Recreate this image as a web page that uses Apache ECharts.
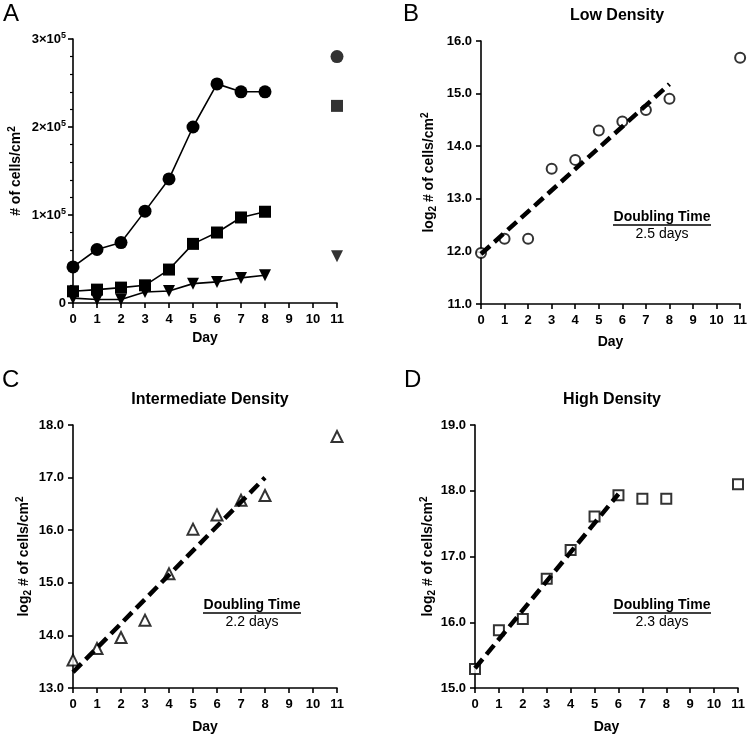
<!DOCTYPE html>
<html>
<head>
<meta charset="utf-8">
<script src="https://cdn.jsdelivr.net/npm/echarts@6/dist/echarts.min.js"></script>
<style>
  html, body { margin: 0; padding: 0; background: #fff; }
  #main { width: 750px; height: 735px; }
</style>
</head>
<body>
<div id="main"></div>
<script type="text/javascript">
    // days 0-8 are joined, day 11 stands alone
    var days = [0, 1, 2, 3, 4, 5, 6, 7, 8];
    var lastDay = 11;

    // panel A, cells/cm2
    var aCircle = [41000, 60800, 68700, 104400, 141000, 200000, 249000, 240000, 240000];
    var aCircle11 = 280000;
    var aSquare = [13300, 15200, 17500, 20100, 38000, 67200, 80100, 97200, 103700];
    var aSquare11 = 224000;
    var aTri = [5500, 4000, 4000, 12500, 13700, 22000, 24000, 28500, 31500];
    var aTri11 = 53000;

    // panels B-D, log2 cells/cm2 (days 0-8, then 11)
    var bLow = [11.97, 12.24, 12.24, 13.57, 13.74, 14.30, 14.47, 14.69, 14.90, 15.68];
    var cMid = [13.53, 13.75, 13.96, 14.29, 15.17, 16.02, 16.29, 16.57, 16.66, 17.78];
    var dHigh = [15.29, 15.88, 16.05, 16.66, 17.10, 17.61, 17.93, 17.88, 17.88, 18.10];

    // fitted lines (end points)
    var fitB = [[0, 11.95], [8, 15.18]];
    var fitC = [[0, 13.30], [8, 17.00]];
    var fitD = [[0, 15.30], [6, 17.95]];

    var dblB = '2.5 days';
    var dblC = '2.2 days';
    var dblD = '2.3 days';

    var FONT = 'Liberation Sans';

    function pairs(xs, ys) {
        return xs.map(function (x, i) { return [x, ys[i]]; });
    }
    function logPairs(ys) {
        return days.concat([lastDay]).map(function (x, i) { return [x, ys[i]]; });
    }

    function xAxis(gridIndex, gap) {
        return {
            type: 'value', gridIndex: gridIndex, min: 0, max: 11, interval: 1,
            name: 'Day', nameLocation: 'middle', nameGap: gap,
            nameTextStyle: { fontFamily: FONT, fontWeight: 'bold', fontSize: 14, color: '#000' },
            axisLine: { onZero: false, lineStyle: { color: '#000', width: 1.6 } },
            axisTick: { show: true, length: 5, lineStyle: { color: '#000', width: 1.6 } },
            axisLabel: { fontFamily: FONT, fontWeight: 'bold', fontSize: 13, color: '#000', margin: 10 },
            splitLine: { show: false }
        };
    }

    var logName = '{n|log}{sub|2}{n| # of cells/cm}{sup|2}';
    var nameRich = {
        n: { fontFamily: FONT, fontWeight: 'bold', fontSize: 14, color: '#000', lineHeight: 18 },
        sub: { fontFamily: FONT, fontWeight: 'bold', fontSize: 10, color: '#000', verticalAlign: 'bottom', lineHeight: 18, padding: [6, 0, 0, 0] },
        sup: { fontFamily: FONT, fontWeight: 'bold', fontSize: 10, color: '#000', verticalAlign: 'top', lineHeight: 18, padding: [0, 0, 6, 0] }
    };

    function logY(gridIndex, min, max, gap) {
        return {
            type: 'value', gridIndex: gridIndex, min: min, max: max, interval: 1,
            name: logName, nameLocation: 'middle', nameGap: gap, nameRotate: 90,
            nameTextStyle: { rich: nameRich },
            axisLine: { show: true, lineStyle: { color: '#000', width: 1.6 } },
            axisTick: { show: true, length: 5, lineStyle: { color: '#000', width: 1.6 } },
            axisLabel: {
                fontFamily: FONT, fontWeight: 'bold', fontSize: 13, color: '#000', margin: 9,
                formatter: function (v) { return v.toFixed(1); }
            },
            splitLine: { show: false }
        };
    }

    var blackLine = { color: '#000', width: 1.6 };
    var openItem = { color: '#fff', borderColor: '#000', borderWidth: 2 };
    var dash = { color: '#000', width: 4.5, type: [12, 6] };

    function annot(cx, cy, value) {
        return {
            type: 'group',
            children: [
                { type: 'text', x: cx, y: cy, style: { text: 'Doubling Time', fontFamily: FONT, fontWeight: 'bold', fontSize: 14, fill: '#000', align: 'center', verticalAlign: 'middle' } },
                { type: 'line', shape: { x1: cx - 49, y1: cy + 8, x2: cx + 49, y2: cy + 8 }, style: { stroke: '#000', lineWidth: 1.3 } },
                { type: 'text', x: cx, y: cy + 17, style: { text: value, fontFamily: FONT, fontSize: 14, fill: '#000', align: 'center', verticalAlign: 'middle' } }
            ]
        };
    }
    function letter(x, y, t) {
        return { type: 'text', x: x, y: y, style: { text: t, fontFamily: FONT, fontSize: 24, fill: '#000' } };
    }
    var titleStyle = { fontFamily: FONT, fontWeight: 'bold', fontSize: 16, color: '#000' };

    var myChart = echarts.init(document.getElementById('main'), null, { renderer: 'canvas' });
    myChart.setOption({
        animation: false,
        backgroundColor: '#fff',
        title: [
            { text: 'Low Density', left: 612, top: 3, textAlign: 'center', textStyle: titleStyle },
            { text: 'Intermediate Density', left: 205, top: 387, textAlign: 'center', textStyle: titleStyle },
            { text: 'High Density', left: 607, top: 387, textAlign: 'center', textStyle: titleStyle }
        ],
        grid: [
            { left: 73, right: 413, top: 39, bottom: 432 },
            { left: 481, right: 6, top: 41, bottom: 431 },
            { left: 73, right: 413, top: 425, bottom: 47 },
            { left: 475, right: 12, top: 425, bottom: 47 }
        ],
        xAxis: [xAxis(0, 28), xAxis(1, 31), xAxis(2, 32), xAxis(3, 32)],
        yAxis: [
            {
                type: 'value', gridIndex: 0, min: 0, max: 300000, interval: 100000,
                name: '{n|# of cells/cm}{sup|2}', nameLocation: 'middle', nameGap: 48, nameRotate: 90,
                nameTextStyle: { rich: nameRich },
                axisLine: { show: true, lineStyle: { color: '#000', width: 1.6 } },
                axisTick: { show: true, length: 5, lineStyle: { color: '#000', width: 1.6 } },
                minorTick: { show: true, splitNumber: 5, length: 3, lineStyle: { color: '#000', width: 1.2 } },
                axisLabel: {
                    margin: 7,
                    formatter: function (v) {
                        if (v === 0) return '{b|0}';
                        return '{b|' + (v / 100000) + '×10}{s|5}';
                    },
                    rich: {
                        b: { fontFamily: FONT, fontWeight: 'bold', fontSize: 13, color: '#000', lineHeight: 16 },
                        s: { fontFamily: FONT, fontWeight: 'bold', fontSize: 9, color: '#000', verticalAlign: 'top', lineHeight: 16, padding: [0, 0, 6, 0] }
                    }
                },
                splitLine: { show: false }
            },
            logY(1, 11, 16, 43),
            logY(2, 13, 18, 40),
            logY(3, 15, 19, 37)
        ],
        graphic: [
            letter(3, 2, 'A'),
            letter(403, 2, 'B'),
            letter(2, 368, 'C'),
            letter(404, 368, 'D'),
            annot(662, 217, dblB),
            annot(252, 605, dblC),
            annot(662, 605, dblD)
        ],
        series: [
            // panel A
            { type: 'line', xAxisIndex: 0, yAxisIndex: 0, data: pairs(days, aCircle), symbol: 'circle', symbolSize: 13, lineStyle: blackLine, itemStyle: { color: '#000' } },
            { type: 'line', xAxisIndex: 0, yAxisIndex: 0, data: pairs(days, aSquare), symbol: 'rect', symbolSize: 12, lineStyle: blackLine, itemStyle: { color: '#000' } },
            { type: 'line', xAxisIndex: 0, yAxisIndex: 0, data: pairs(days, aTri), symbol: 'triangle', symbolRotate: 180, symbolSize: 12, lineStyle: blackLine, itemStyle: { color: '#000' } },
            { type: 'scatter', xAxisIndex: 0, yAxisIndex: 0, data: [[lastDay, aCircle11]], symbol: 'circle', symbolSize: 13, itemStyle: { color: '#000' } },
            { type: 'scatter', xAxisIndex: 0, yAxisIndex: 0, data: [[lastDay, aSquare11]], symbol: 'rect', symbolSize: 12, itemStyle: { color: '#000' } },
            { type: 'scatter', xAxisIndex: 0, yAxisIndex: 0, data: [[lastDay, aTri11]], symbol: 'triangle', symbolRotate: 180, symbolSize: 12, itemStyle: { color: '#000' } },
            // panel B
            { type: 'scatter', xAxisIndex: 1, yAxisIndex: 1, data: logPairs(bLow), symbol: 'circle', symbolSize: 10, itemStyle: openItem, z: 2 },
            { type: 'line', xAxisIndex: 1, yAxisIndex: 1, data: fitB, symbol: 'none', lineStyle: dash, z: 3 },
            // panel C
            { type: 'scatter', xAxisIndex: 2, yAxisIndex: 2, data: logPairs(cMid), symbol: 'triangle', symbolSize: 11, itemStyle: openItem, z: 2 },
            { type: 'line', xAxisIndex: 2, yAxisIndex: 2, data: fitC, symbol: 'none', lineStyle: dash, z: 3 },
            // panel D
            { type: 'scatter', xAxisIndex: 3, yAxisIndex: 3, data: logPairs(dHigh), symbol: 'rect', symbolSize: 10, itemStyle: openItem, z: 2 },
            { type: 'line', xAxisIndex: 3, yAxisIndex: 3, data: fitD, symbol: 'none', lineStyle: dash, z: 3 }
        ]
    });
</script>
</body>
</html>
